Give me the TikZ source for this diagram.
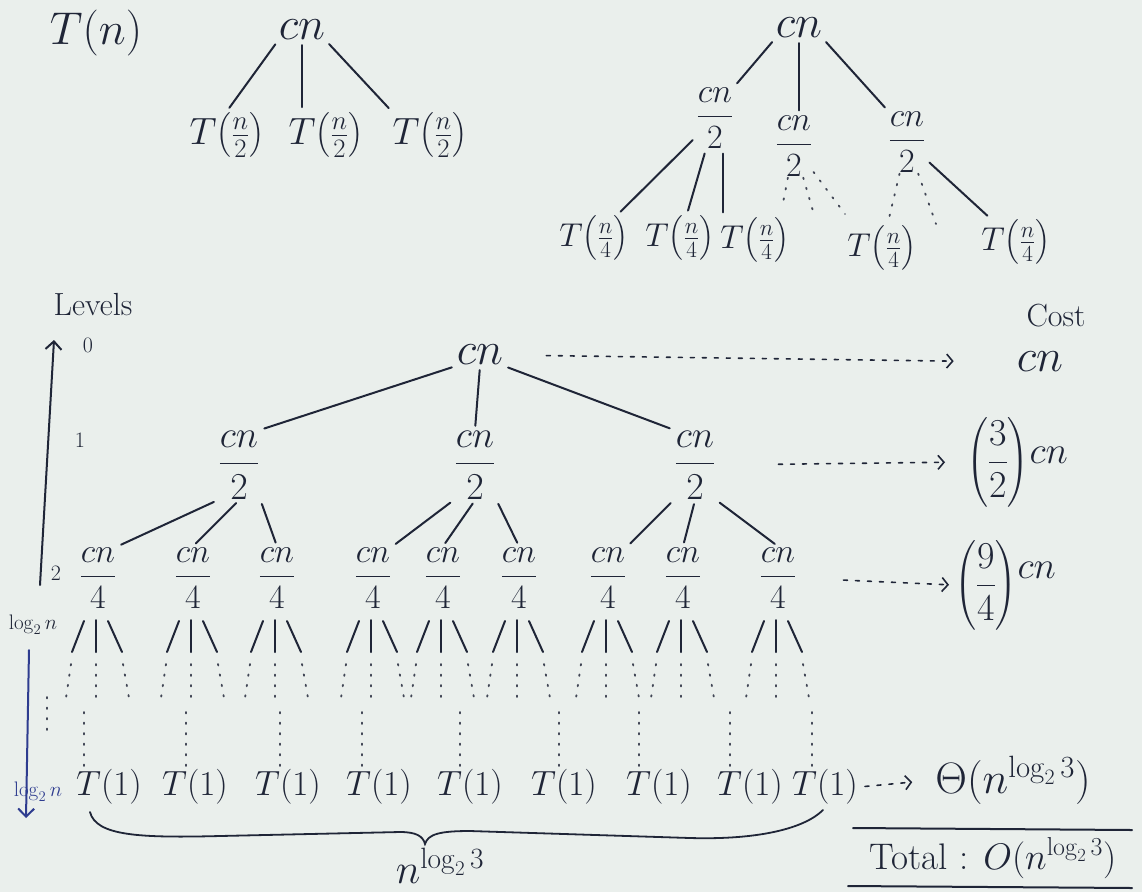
\RequirePackage{fix-cm}
\documentclass[tikz,border=0pt]{standalone}
\usepackage{amsmath}
\usetikzlibrary{arrows.meta}
\definecolor{ink}{HTML}{1F2537}
\definecolor{blueink}{HTML}{2E3C8F}
\definecolor{paper}{HTML}{EAEFEC}
\begin{document}
\begin{tikzpicture}[x=1pt,y=-1pt,
  every node/.style={text=ink, inner sep=1pt},
  big/.style={font=\fontsize{46}{50}\selectfont},
  fr/.style={font=\fontsize{38}{42}\selectfont},
  frs/.style={font=\fontsize{34}{38}\selectfont},
  frl/.style={font=\fontsize{34}{38}\selectfont},
  tn/.style={font=\fontsize{38}{42}\selectfont},
  tq/.style={font=\fontsize{33}{36}\selectfont},
  leaf/.style={font=\fontsize{35}{38}\selectfont},
  lbl/.style={font=\fontsize{32}{36}\selectfont},
  costfr/.style={font=\fontsize{38}{42}\selectfont},
  tiny/.style={font=\fontsize{22}{24}\selectfont},
  lgn/.style={font=\fontsize{21}{23}\selectfont},
  ln/.style={draw=ink, line width=2pt, line cap=round},
  edge/.style={ln, shorten <=4pt, shorten >=4pt},
  dots/.style={draw=ink!85, line width=1.8pt, line cap=round, dash pattern=on 1.5pt off 9pt},
  costarrow/.style={draw=ink, line width=1.6pt, line cap=round, dash pattern=on 4pt off 8pt, -{Straight Barb[length=6pt,width=14pt]}},
  barb/.style={-{Straight Barb[length=8pt,width=16pt]}},
]
\fill[paper] (0,0) rectangle (1142,892);
\useasboundingbox (0,0) rectangle (1142,892);

% ---------- top-left tree ----------
\node[big] (Tn) at (96,33) {$T(n)$};
\node[big] (A) at (302,30) {$cn$};
\node[tn] (A1) at (227,135) {$T\bigl(\tfrac{n}{2}\bigr)$};
\node[tn] (A2) at (326,135) {$T\bigl(\tfrac{n}{2}\bigr)$};
\node[tn] (A3) at (430,135) {$T\bigl(\tfrac{n}{2}\bigr)$};
\draw[edge] (A.south west) -- (A1.north);
\draw[edge] (A.south) -- (A.south |- A2.north);
\draw[edge] (A.south east) -- (A3.north west);

% ---------- top-right tree ----------
\node[big] (B) at (799,28) {$cn$};
\node[frs] (B1) at (715,118) {$\dfrac{cn}{2}$};
\node[frs] (B2) at (794,146) {$\dfrac{cn}{2}$};
\node[frs] (B3) at (907,142) {$\dfrac{cn}{2}$};
\draw[edge] (B.south west) -- (B1.north east);
\draw[edge] (B.south) -- (B.south |- B2.north);
\draw[edge] (B.south east) -- (B3.north west);

\node[tq] (C1) at (594,238) {$T\bigl(\tfrac{n}{4}\bigr)$};
\node[tq] (C2) at (680,238) {$T\bigl(\tfrac{n}{4}\bigr)$};
\node[tq] (C3) at (755,240) {$T\bigl(\tfrac{n}{4}\bigr)$};
\node[tq] (C4) at (882,248) {$T\bigl(\tfrac{n}{4}\bigr)$};
\node[tq] (C5) at (1016,242) {$T\bigl(\tfrac{n}{4}\bigr)$};
\draw[edge] (B1) -- (C1);
\draw[edge] (B1) -- (C2);
\draw[edge] ([xshift=8pt]B1.south) -- ([xshift=8pt]B1.south |- C3.north);
\coordinate (d1) at (782,208);
\coordinate (d2) at (815,218);
\coordinate (d3) at (845,214);
\coordinate (d4) at (936,224);
\draw[dots] (B2) -- (d1);
\draw[dots] (B2) -- (d2);
\draw[dots] (B2) -- (d3);
\draw[dots] (B3) -- (C4);
\draw[dots] (B3) -- (d4);
\draw[edge] (B3) -- (C5);

% ---------- labels ----------
\node[lbl] (Lv) at (93,305) {Levels};
\node[lbl] (Cost) at (1056,316) {Cost};
\node[tiny] (L0) at (88,345) {0};
\node[tiny] (L1) at (80,440) {1};
\node[tiny] (L2) at (56,573) {2};
\node[lgn] (Lg1) at (33,625) {$\log_2 n$};
\node[lgn, text=blueink] (Lg2) at (38,792) {$\log_2 n$};
\coordinate (ua) at (40,585);
\coordinate (ub) at (54,340);
\draw[ln, barb] (ua) -- (ub);
\coordinate (da) at (29,650);
\coordinate (db) at (26,818);
\draw[ln, draw=blueink, barb] (da) -- (db);

% ---------- main tree ----------
\node[big] (R) at (480,355) {$cn$};
\node[fr] (M1) at (239,465) {$\dfrac{cn}{2}$};
\node[fr] (M2) at (475,465) {$\dfrac{cn}{2}$};
\node[fr] (M3) at (695,465) {$\dfrac{cn}{2}$};
\draw[edge] (R.south west) -- (M1.north east);
\draw[edge] (R.south) -- (M2.north);
\draw[edge] (R.south east) -- (M3.north west);

\foreach \x [count=\i] in {98,193,277,373,443,519,608,683,778}{
  \node[frl] (P\i) at (\x,578) {$\dfrac{cn}{4}$};
  \draw[ln] ({\x-14},621) -- ({\x-26},652);
  \draw[ln] ({\x-2},620) -- ({\x-2},652);
  \draw[ln] ({\x+10},621) -- ({\x+24},652);
  \draw[dots] ({\x-27},664) -- ({\x-32},698);
  \draw[dots] ({\x-2},664) -- ({\x-2},698);
  \draw[dots] ({\x+25},664) -- ({\x+31},698);
}
\draw[edge] (M1.south west) -- (P1.north east);
\draw[edge] (M1.south) -- (P2.north);
\draw[edge] (M1.south east) -- (P3.north);
\draw[edge] (M2.south west) -- (P4.north east);
\draw[edge] (M2.south) -- (P5.north);
\draw[edge] (M2.south east) -- (P6.north);
\draw[edge] (M3.south west) -- (P7.north east);
\draw[edge] (M3.south) -- (P8.north);
\draw[edge] (M3.south east) -- (P9.north);

\foreach \x in {84,186,280,362,460,559,639,730,812}{
  \draw[dots] (\x,712) -- (\x,768);
}
\draw[dots] (47,697) -- (47,732);

\foreach \x [count=\i] in {109,195,288,379,470,564,659,750,825}{
  \node[leaf] (T\i) at (\x,787) {$T(1)$};
}

% ---------- costs ----------
\node[big] (K0) at (1040,362) {$cn$};
\node[costfr] (K1) at (1017,462) {$\left(\dfrac{3}{2}\right)$\raisebox{8pt}{$cn$}};
\node[costfr] (K2) at (1005,585) {$\left(\dfrac{9}{4}\right)$\raisebox{16pt}{$cn$}};
\node[font=\fontsize{44}{48}\selectfont] (K3) at (1013,780) {$\Theta(n^{\log_2 3})$};
\draw[costarrow, shorten <=42pt, shorten >=62pt] (R.east) -- (K0.west);
\draw[costarrow, shorten <=62pt, shorten >=20pt] (M3.east) -- (K1.west);
\draw[costarrow, shorten <=46pt, shorten >=4pt] (P9.east) -- (K2.west);
\draw[costarrow, shorten <=6pt, shorten >=22pt] (T9.east) -- (K3.west);

% ---------- brace ----------
\coordinate (brA) at (90,812);
\coordinate (brB) at (823,810);
\draw[ln, line width=1.8pt] (brA) .. controls (96,836) and (140,838) .. (220,836)
   -- (400,832) .. controls (416,832) and (423,836) .. (425,844)
   .. controls (428,834) and (440,831) .. (470,831)
   -- (690,838) .. controls (760,840) and (805,828) .. (brB);
\node[font=\fontsize{42}{46}\selectfont] (N) at (440,866) {$n^{\log_2 3}$};

% ---------- total ----------
\node[font=\fontsize{37}{40}\selectfont] (Tot) at (993,858) {Total : $O(n^{\log_2 3})$};
\draw[ln] (853,828) -- (1132,830);
\draw[ln] (848,886) -- (1132,888);
\end{tikzpicture}
\end{document}
